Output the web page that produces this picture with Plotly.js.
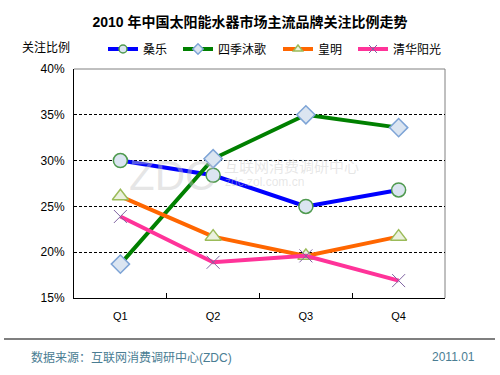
<!DOCTYPE html>
<html>
<head>
<meta charset="utf-8">
<script src="https://cdn.plot.ly/plotly-3.0.1.min.js"></script>
<style>html,body{margin:0;padding:0;background:#fff;}#chart{width:500px;height:375px;}</style>
</head>
<body>
<div id="chart"></div>
<script>
// ---- data ----
const categories = ['Q1', 'Q2', 'Q3', 'Q4'];
const sangle = [30.0, 28.4, 25.0, 26.8];        // 桑乐
const sijimuge = [18.7, 30.2, 35.0, 33.6];      // 四季沐歌
const huangming = [26.1, 21.7, 19.6, 21.7];     // 皇明
const qinghua = [23.9, 18.9, 19.6, 16.9];       // 清华阳光
const seriesNames = ['桑乐', '四季沐歌', '皇明', '清华阳光'];
const yTickVals = [15, 20, 25, 30, 35, 40];
const yTickText = ['15%', '20%', '25%', '30%', '35%', '40%'];

const FONT = 'Liberation Sans, Arial, Noto Sans CJK SC, sans-serif';

const styles = [
  {color: '#0000ff', marker: {symbol: 'circle', color: '#dbe5f1', line: {color: '#4f9a4f', width: 1.5}}, size: 14},
  {color: '#008000', marker: {symbol: 'diamond', color: '#dbe5f1', line: {color: '#7ea4d6', width: 1.5}}, size: 14},
  {color: '#ff6600', marker: {symbol: 'triangle-up', color: '#ebf1de', line: {color: '#9bbb59', width: 1.5}}, size: 14},
  {color: '#ff3399', marker: {symbol: 'x-thin-open', color: '#8064a2', line: {color: '#8064a2', width: 1}}, size: 13}
];
const seriesData = [sangle, sijimuge, huangming, qinghua];
const legendIds = ['legend', 'legend2', 'legend3', 'legend4'];

const traces = [];
seriesData.forEach((y, i) => {
  const s = styles[i];
  traces.push({
    type: 'scatter', mode: 'lines+markers', name: seriesNames[i],
    x: categories, y: y, showlegend: false,
    line: {color: s.color, width: 4},
    marker: Object.assign({}, s.marker, {size: s.size}),
    cliponaxis: false
  });
});
// legend entries (small markers, as in the reference legend)
seriesNames.forEach((name, i) => {
  const s = styles[i];
  traces.push({
    type: 'scatter', mode: 'lines+markers', name: name,
    x: [null], y: [null], showlegend: true, legend: legendIds[i],
    line: {color: s.color, width: 4},
    marker: Object.assign({}, s.marker, {size: 8})
  });
});

const lineStarts = [109, 184, 284, 359];
const legendBase = {
  orientation: 'h', xanchor: 'left', y: 1 + (69 - 49) / 229, yanchor: 'middle',
  font: {family: FONT, size: 12, color: '#000'},
  bgcolor: 'rgba(0,0,0,0)', itemwidth: 30
};

const layout = {
  width: 500, height: 375,
  margin: {l: 74, r: 55, t: 69, b: 77, pad: 0},
  paper_bgcolor: '#ffffff', plot_bgcolor: '#ffffff',
  font: {family: FONT, size: 12, color: '#000'},
  title: {
    text: '<b>2010 年中国太阳能水器市场主流品牌关注比例走势</b>',
    font: {family: FONT, size: 14, color: '#000'},
    xref: 'container', x: 0.5, xanchor: 'center',
    yref: 'container', y: 1 - 22 / 375, yanchor: 'middle'
  },
  showlegend: true,
  xaxis: {
    type: 'category', range: [-0.5, 3.5], fixedrange: true,
    showline: true, linecolor: '#000', linewidth: 1,
    ticks: 'inside', tickson: 'boundaries', ticklen: 5, tickcolor: '#000', tickwidth: 1,
    showgrid: false, zeroline: false,
    tickfont: {family: FONT, size: 11, color: '#000'},
    ticklabelstandoff: 8
  },
  yaxis: {
    range: [15, 40], fixedrange: true,
    tickvals: yTickVals, ticktext: yTickText,
    showline: true, linecolor: '#000', linewidth: 1,
    ticks: '', showgrid: true, gridcolor: '#000', gridwidth: 1, griddash: '3px,2px',
    zeroline: false,
    tickfont: {family: FONT, size: 12, color: '#000'},
    ticklabelstandoff: 6
  },
  shapes: [
    {type: 'line', xref: 'paper', yref: 'paper', x0: 0, x1: 1, y0: 1, y1: 1, line: {color: '#808080', width: 1}, layer: 'between'},
    {type: 'line', xref: 'paper', yref: 'paper', x0: 1, x1: 1, y0: 0, y1: 1, line: {color: '#808080', width: 1}, layer: 'between'},
    {type: 'line', xref: 'paper', yref: 'paper', x0: (4 - 74) / 371, x1: (495 - 74) / 371, y0: (298 - 339) / 229, y1: (298 - 339) / 229, line: {color: '#000', width: 1.2}}
  ],
  annotations: [
    {text: '关注比例', xref: 'paper', yref: 'paper', x: (46 - 74) / 371, y: 1 + (69 - 47) / 229, xanchor: 'center', yanchor: 'middle', showarrow: false, font: {family: FONT, size: 12, color: '#000'}},
    {text: '数据来源：互联网消费调研中心(ZDC)', xref: 'paper', yref: 'paper', x: (29 - 74) / 371, y: (298 - 357) / 229, xanchor: 'left', yanchor: 'middle', showarrow: false, font: {family: FONT, size: 12, color: '#4a7d93'}},
    {text: '2011.01', xref: 'paper', yref: 'paper', x: (477 - 74) / 371, y: (298 - 357) / 229, xanchor: 'right', yanchor: 'middle', showarrow: false, font: {family: FONT, size: 12, color: '#4a7d93'}},
    {text: 'ZDC', xref: 'paper', yref: 'paper', x: (172 - 74) / 371, y: (298 - 175) / 229, xanchor: 'center', yanchor: 'middle', showarrow: false, font: {family: FONT, size: 42, color: 'rgba(200,200,200,0.45)'}},
    {text: '互联网消费调研中心', xref: 'paper', yref: 'paper', x: (222 - 74) / 371, y: (298 - 166) / 229, xanchor: 'left', yanchor: 'middle', showarrow: false, font: {family: FONT, size: 15, color: 'rgba(200,200,200,0.45)'}},
    {text: 'zdc.zol.com.cn', xref: 'paper', yref: 'paper', x: (223 - 74) / 371, y: (298 - 182) / 229, xanchor: 'left', yanchor: 'middle', showarrow: false, font: {family: FONT, size: 12, color: 'rgba(200,200,200,0.45)'}}
  ]
};
legendIds.forEach((id, i) => {
  layout[id] = Object.assign({}, legendBase, {x: (lineStarts[i] - 6 - 74) / 371});
});

Plotly.newPlot('chart', traces, layout, {displayModeBar: false, staticPlot: true});
</script>
</body>
</html>
